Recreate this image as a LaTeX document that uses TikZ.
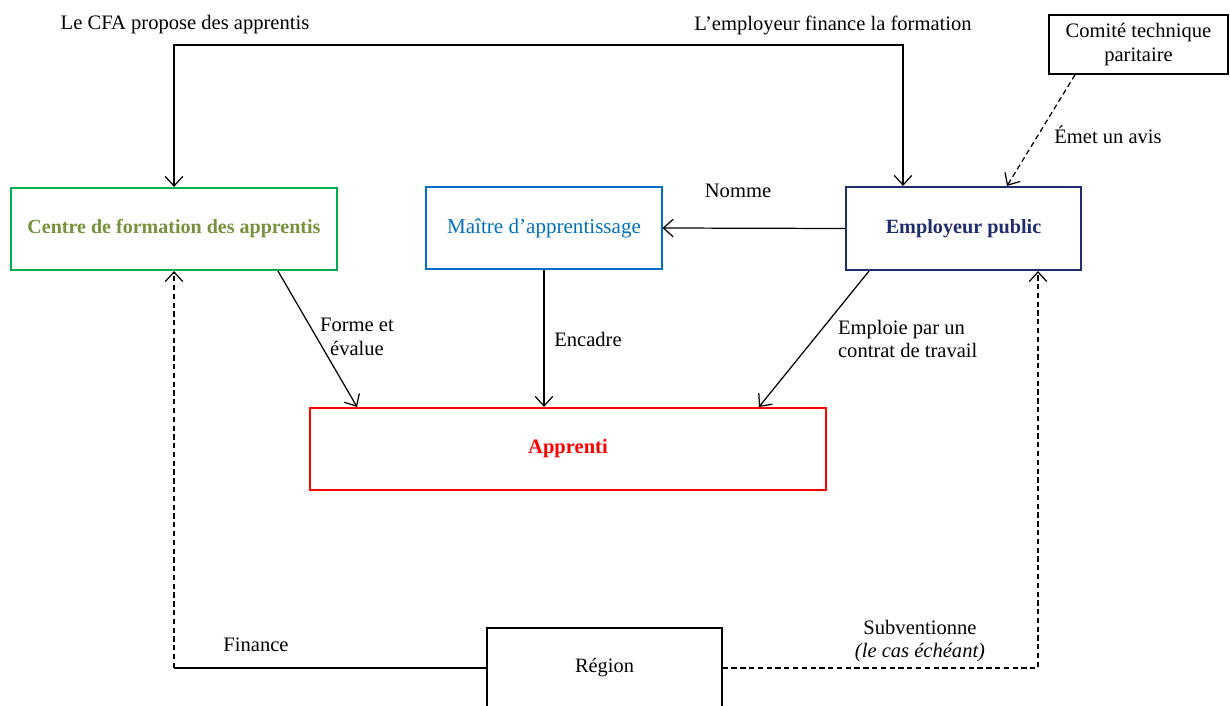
\documentclass[tikz,border=0pt]{standalone}
\usepackage{fontspec}
\setmainfont{Liberation Serif}
\usepackage{tikz}
\usetikzlibrary{arrows.meta,positioning,calc}
\definecolor{cfaGreen}{RGB}{0,176,80}
\definecolor{cfaOlive}{RGB}{118,146,60}
\definecolor{maitreBlue}{RGB}{0,112,192}
\definecolor{empNavy}{RGB}{31,45,110}
\definecolor{apprRed}{RGB}{255,0,0}

\tikzset{
  boite/.style={draw, rectangle, align=center, inner sep=2pt},
  fleche/.style={line width=0.7pt, -{Straight Barb[length=5.5pt,width=10pt]}},
  pointille/.style={dashed, dash pattern=on 3pt off 2pt},
  etiq/.style={align=center, inner sep=1pt, font=\fontsize{11.7}{13.6}\selectfont},
}

\begin{document}
\begin{tikzpicture}[x=0.02cm, y=-0.02cm]
\useasboundingbox (0,0) rectangle (1230,706);

% boxes
\node[boite, draw=cfaGreen, line width=1.2pt, minimum width=6.52cm, minimum height=1.64cm,
  text=cfaOlive, font=\fontsize{11.4}{13}\selectfont\bfseries] (cfa) at (174,229) {Centre de formation des apprentis};
\node[boite, draw=maitreBlue, line width=0.7pt, minimum width=4.72cm, minimum height=1.64cm,
  text=maitreBlue, font=\fontsize{12}{13}\selectfont] (maitre) at (544,228) {Maître d’apprentissage};
\node[boite, draw=empNavy, line width=1.2pt, minimum width=4.70cm, minimum height=1.66cm,
  text=empNavy, font=\fontsize{11.5}{13}\selectfont\bfseries] (emp) at (963.5,228.5) {Employeur public};
\node[boite, line width=0.9pt, minimum width=3.58cm, minimum height=1.18cm,
  font=\fontsize{11.7}{13.4}\selectfont] (comite) at (1138.5,44.5) {Comité technique\\paritaire};
\node[boite, draw=apprRed, line width=1.2pt, minimum width=10.32cm, minimum height=1.64cm,
  text=apprRed, font=\fontsize{11.7}{13}\selectfont\bfseries] (appr) at (568,449) {Apprenti};
\node[boite, line width=0.8pt, minimum width=4.70cm, minimum height=1.60cm,
  font=\fontsize{11.6}{13}\selectfont] (reg) at (604.5,668) {Région};

% top link CFA <-> employeur
\coordinate (haut) at (540,45);
\draw[fleche, {Straight Barb[length=5.5pt,width=10pt]}-{Straight Barb[length=5.5pt,width=10pt]}]
  (cfa.north) |- (haut) -| ([xshift=-1.21cm]emp.north);
\node[etiq] (propose) at (185,25) {Le CFA propose des apprentis};
\node[etiq] (financeform) at (833,25) {L’employeur finance la formation};

% comite -> employeur
\draw[fleche, pointille] ([xshift=-1.27cm]comite.south) -- ([xshift=0.87cm]emp.north);
\node[etiq] (avis) at (1108,135) {Émet un avis};

% employeur -> maitre
\draw[fleche] (emp.west) -- (maitre.east);
\node[etiq] (nomme) at (738,191) {Nomme};

% arrows down to apprenti
\draw[fleche] ([xshift=2.08cm]cfa.south) -- ([xshift=-4.22cm]appr.north);
\node[etiq] (forme) at (357,337) {Forme et\\évalue};
\draw[fleche] (maitre.south) -- (maitre.south |- appr.north);
\node[etiq] (encadre) at (588,339) {Encadre};
\draw[fleche] ([xshift=-1.89cm]emp.south) -- ([xshift=3.82cm]appr.north);
\node[etiq, align=left, anchor=west] (emploie) at (836,339) {Emploie par un\\contrat de travail};

% region
\coordinate (coin) at (cfa.south |- reg.west);
\draw[line width=0.7pt] (reg.west) -- (coin);
\draw[fleche, pointille] (coin) -- (cfa.south);
\node[etiq] (finance) at (256,645) {Finance};
\draw[fleche, pointille] (reg.east) -| ([xshift=1.49cm]emp.south);
\node[etiq] (subv) at (920,641) {Subventionne\\{\itshape (le cas échéant)}};

\end{tikzpicture}
\end{document}
